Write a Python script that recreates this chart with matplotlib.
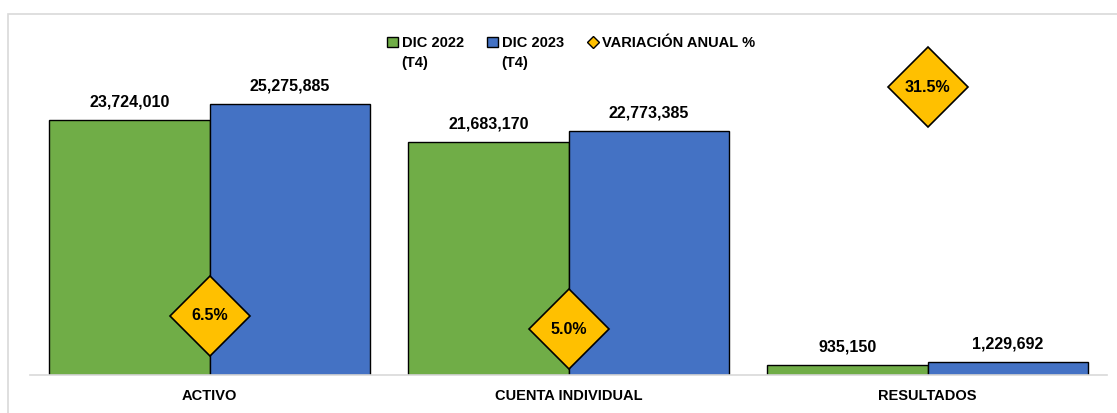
import matplotlib
matplotlib.use("Agg")
import matplotlib.pyplot as plt
from matplotlib.patches import Rectangle
from matplotlib.lines import Line2D
from matplotlib.patches import Patch
import numpy as np

categories = ["ACTIVO", "CUENTA INDIVIDUAL", "RESULTADOS"]
dic2022 = [23724010, 21683170, 935150]
dic2023 = [25275885, 22773385, 1229692]
variacion = [6.5, 5.0, 31.5]
series_labels = ["DIC 2022", "DIC 2023", "VARIACIÓN ANUAL %"]
series_sublabels = ["(T4)", "(T4)", ""]

GREEN = "#70AD47"
BLUE = "#4472C4"
GOLD = "#FFC000"

plt.rcParams['font.family'] = ['Liberation Sans', 'DejaVu Sans']

W, H = 1117, 413
fig = plt.figure(figsize=(W / 100, H / 100), dpi=100)

# outer frame
fig.add_artist(Rectangle((8 / W, -0.1), 1.2, (413 - 14) / H + 0.1, transform=fig.transFigure,
                         fill=False, edgecolor="#D9D9D9", linewidth=1.2))

ax = fig.add_axes([30 / W, (413 - 375) / H, (1107 - 30) / W, (375 - 30) / H])
ax2 = ax.twinx()

x = np.arange(len(categories))
bw = 0.4457
ax.bar(x - bw / 2, dic2022, bw, color=GREEN, edgecolor="black", linewidth=1, zorder=2)
ax.bar(x + bw / 2, dic2023, bw, color=BLUE, edgecolor="black", linewidth=1, zorder=2)

ax.set_xlim(-0.5, 2.5)
ax.set_ylim(0, 345 / 10.73 * 1e6)
ax2.set_ylim(0, 345 / 9.13)

for xs, vals in ((x - bw / 2, dic2022), (x + bw / 2, dic2023)):
    for xi, v in zip(xs, vals):
        ax.annotate(f"{v:,}", (xi, v), xytext=(0, 13), textcoords="offset points",
                    ha="center", va="center", fontsize=11.5, fontweight="bold")

ax2.plot(x, variacion, linestyle="none", marker="D", markersize=41,
         markerfacecolor=GOLD, markeredgecolor="black", markeredgewidth=1.2, zorder=3)
for xi, v in zip(x, variacion):
    ax2.text(xi, v, f"{v:.1f}%", ha="center", va="center", fontsize=11.5,
             fontweight="bold", zorder=4)

for a in (ax, ax2):
    for s in a.spines.values():
        s.set_visible(False)
    a.set_yticks([])
ax.spines["bottom"].set_visible(True)
ax.spines["bottom"].set_color("#D9D9D9")
ax.spines["bottom"].set_linewidth(1.2)
ax.set_xticks(x)
ax.set_xticklabels(categories, fontsize=10.5, fontweight="bold")
ax.tick_params(axis="x", length=0, pad=10)

handles = [Patch(facecolor=GREEN, edgecolor="black"),
           Patch(facecolor=BLUE, edgecolor="black"),
           Line2D([], [], linestyle="none", marker="D", markersize=6,
                  markerfacecolor=GOLD, markeredgecolor="black")]
leg = fig.legend(handles, series_labels, loc="upper center", bbox_to_anchor=(571 / W, 1 - 23 / H),
                 ncol=3, frameon=False, prop={"weight": "bold", "size": 10.5},
                 handlelength=0.75, handleheight=0.75, handletextpad=0.25, columnspacing=1.6)

fig.canvas.draw()
inv = fig.transFigure.inverted()
for t, sub in zip(leg.get_texts(), series_sublabels):
    if not sub:
        continue
    bb = t.get_window_extent()
    x0, y0 = inv.transform((bb.x0, bb.y0))
    fig.text(x0, y0 - 6 / H, sub, ha="left", va="top", fontsize=10.5, fontweight="bold")

fig.savefig("out.png", dpi=100)
